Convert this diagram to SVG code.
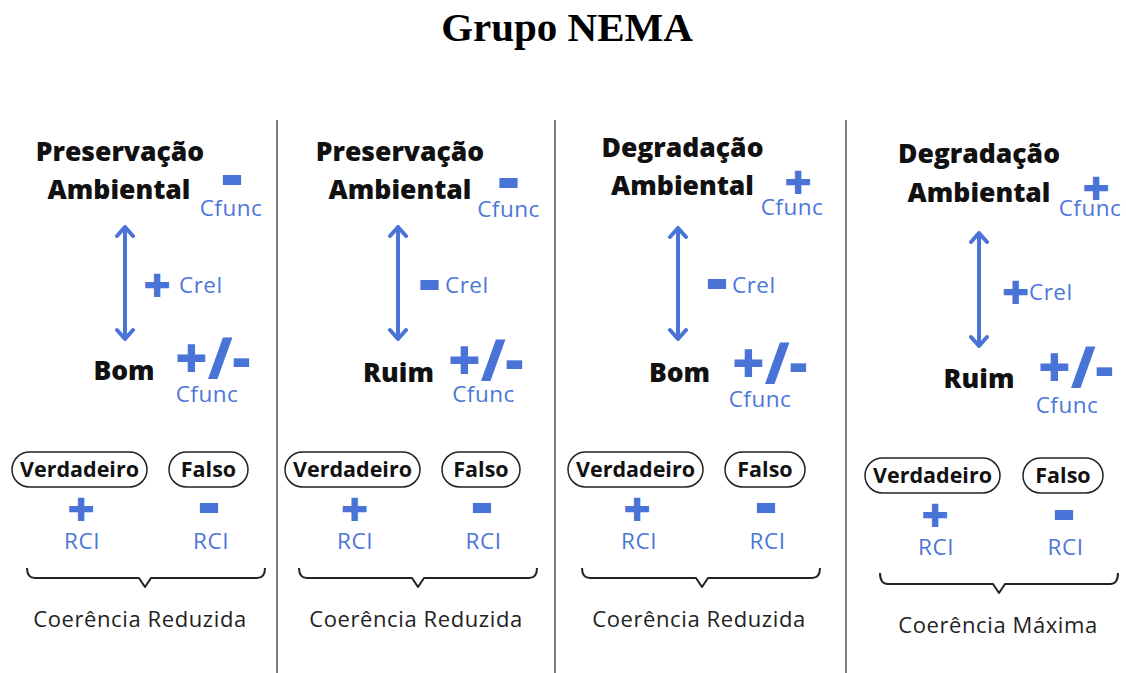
<svg xmlns="http://www.w3.org/2000/svg" width="1126" height="673" viewBox="0 0 1126 673">
<style>
.title{font-family:"Liberation Serif","Times New Roman",serif;font-weight:bold;font-size:41px;fill:#000;text-anchor:middle}
.head{font-family:"Open Sans","Liberation Sans",sans-serif;font-weight:800;font-size:26.5px;fill:#111;text-anchor:middle}
.lbl{font-family:"Open Sans","Liberation Sans",sans-serif;font-weight:400;font-size:22.5px;letter-spacing:0.5px;fill:#4d76d9}
.mid{text-anchor:middle}
.plus{font-family:"Open Sans","Liberation Sans",sans-serif;font-weight:800;font-size:48px;fill:#4a73d8;text-anchor:middle}
.minus{font-family:"Open Sans","Liberation Sans",sans-serif;font-weight:800;font-size:66px;fill:#4a73d8;text-anchor:middle}
.pm{font-family:"Open Sans","Liberation Sans",sans-serif;font-weight:800;font-size:56px;fill:#4a73d8}
.pill{fill:#fff;stroke:#222;stroke-width:1.5}
.ptxt{font-family:"Open Sans","Liberation Sans",sans-serif;font-weight:700;font-size:21.5px;fill:#111;text-anchor:middle}
.foot{font-family:"Open Sans","Liberation Sans",sans-serif;font-weight:400;font-size:22px;letter-spacing:0.6px;fill:#222;text-anchor:middle}
.div{stroke:#555;stroke-width:1.5}
.arrow{fill:none;stroke:#4a73d8;stroke-width:4;stroke-linecap:round;stroke-linejoin:round}
.brace{fill:none;stroke:#222;stroke-width:2;stroke-linejoin:round}
</style>
<rect width="1126" height="673" fill="#fff"/>
<text class="title" x="567" y="41">Grupo NEMA</text>
<g id="dividers">
<line class="div" x1="277" y1="120" x2="277" y2="673"/>
<line class="div" x1="555" y1="120" x2="555" y2="673"/>
<line class="div" x1="846" y1="120" x2="846" y2="673"/>
</g>
<g id="connectors">
<path class="arrow" d="M125,227 V339 M117,236 L125,227 L133,236 M117,330 L125,339 L133,330"/>
<path class="arrow" d="M398,227 V339 M390,236 L398,227 L406,236 M390,330 L398,339 L406,330"/>
<path class="arrow" d="M678,228 V339 M670,237 L678,228 L686,237 M670,330 L678,339 L686,330"/>
<path class="arrow" d="M979,233 V346 M971,242 L979,233 L987,242 M971,337 L979,346 L987,337"/>
<path class="brace" d="M27,568 Q27,578 35,578 H139 L145,587 L151,578 H257 Q265,578 265,568"/>
<path class="brace" d="M299,568 Q299,578 307,578 H412 L418,587 L424,578 H529 Q537,578 537,568"/>
<path class="brace" d="M582,568 Q582,578 590,578 H696 L702,587 L708,578 H812 Q820,578 820,568"/>
<path class="brace" d="M880,573 Q880,584 888,584 H993 L999,593 L1005,584 H1110 Q1118,584 1118,573"/>
</g>
<g id="panel1">
<text class="head" x="120" y="161">Preservação</text>
<text class="head" x="119" y="199">Ambiental</text>
<text class="minus" x="232" y="198">-</text>
<text class="lbl mid" x="231" y="216">Cfunc</text>
<text class="plus" x="157" y="302">+</text>
<text class="lbl" x="179" y="293">Crel</text>
<text class="head" x="124" y="380">Bom</text>
<text class="pm" x="175" y="378">+/-</text>
<text class="lbl mid" x="207" y="402">Cfunc</text>
<rect class="pill" x="12" y="452" width="135" height="35" rx="17.5"/>
<text class="ptxt" x="79.5" y="477">Verdadeiro</text>
<rect class="pill" x="169" y="452" width="79" height="35" rx="17.5"/>
<text class="ptxt" x="208.5" y="477">Falso</text>
<text class="plus" x="81" y="526">+</text>
<text class="lbl mid" x="82" y="549">RCI</text>
<text class="minus" x="209" y="526">-</text>
<text class="lbl mid" x="211" y="549">RCI</text>
<text class="foot" x="140" y="627">Coerência Reduzida</text>
</g>
<g id="panel2">
<text class="head" x="400" y="161">Preservação</text>
<text class="head" x="400" y="199">Ambiental</text>
<text class="minus" x="508.5" y="201">-</text>
<text class="lbl mid" x="508.5" y="217">Cfunc</text>
<text class="minus" x="429.5" y="303">-</text>
<text class="lbl" x="445" y="293">Crel</text>
<text class="head" x="398.5" y="382">Ruim</text>
<text class="pm" x="448" y="380">+/-</text>
<text class="lbl mid" x="483.5" y="402">Cfunc</text>
<rect class="pill" x="285" y="452" width="135" height="35" rx="17.5"/>
<text class="ptxt" x="352.5" y="477">Verdadeiro</text>
<rect class="pill" x="442" y="452" width="78" height="35" rx="17.5"/>
<text class="ptxt" x="481" y="477">Falso</text>
<text class="plus" x="354.5" y="526">+</text>
<text class="lbl mid" x="355" y="549">RCI</text>
<text class="minus" x="482" y="526">-</text>
<text class="lbl mid" x="483.5" y="549">RCI</text>
<text class="foot" x="416" y="627">Coerência Reduzida</text>
</g>
<g id="panel3">
<text class="head" x="682.5" y="157">Degradação</text>
<text class="head" x="682.5" y="195">Ambiental</text>
<text class="plus" x="798" y="199">+</text>
<text class="lbl mid" x="792" y="215">Cfunc</text>
<text class="minus" x="717" y="302">-</text>
<text class="lbl" x="732" y="293">Crel</text>
<text class="head" x="679.5" y="382">Bom</text>
<text class="pm" x="732" y="383">+/-</text>
<text class="lbl mid" x="760" y="407">Cfunc</text>
<rect class="pill" x="568" y="452" width="135" height="35" rx="17.5"/>
<text class="ptxt" x="635.5" y="477">Verdadeiro</text>
<rect class="pill" x="725" y="452" width="80" height="35" rx="17.5"/>
<text class="ptxt" x="765" y="477">Falso</text>
<text class="plus" x="637" y="526">+</text>
<text class="lbl mid" x="639" y="549">RCI</text>
<text class="minus" x="766" y="526">-</text>
<text class="lbl mid" x="767.5" y="549">RCI</text>
<text class="foot" x="699" y="627">Coerência Reduzida</text>
</g>
<g id="panel4">
<text class="head" x="979" y="163">Degradação</text>
<text class="head" x="979" y="202">Ambiental</text>
<text class="plus" x="1096" y="205">+</text>
<text class="lbl mid" x="1090" y="216">Cfunc</text>
<text class="plus" x="1015.5" y="309">+</text>
<text class="lbl" x="1029" y="300">Crel</text>
<text class="head" x="979" y="388">Ruim</text>
<text class="pm" x="1038" y="387">+/-</text>
<text class="lbl mid" x="1067" y="413">Cfunc</text>
<rect class="pill" x="865" y="458" width="135" height="35" rx="17.5"/>
<text class="ptxt" x="932.5" y="483">Verdadeiro</text>
<rect class="pill" x="1023" y="458" width="80" height="35" rx="17.5"/>
<text class="ptxt" x="1063" y="483">Falso</text>
<text class="plus" x="935" y="532">+</text>
<text class="lbl mid" x="936" y="555">RCI</text>
<text class="minus" x="1064" y="533">-</text>
<text class="lbl mid" x="1065.5" y="555">RCI</text>
<text class="foot" x="998" y="633">Coerência Máxima</text>
</g>
</svg>
